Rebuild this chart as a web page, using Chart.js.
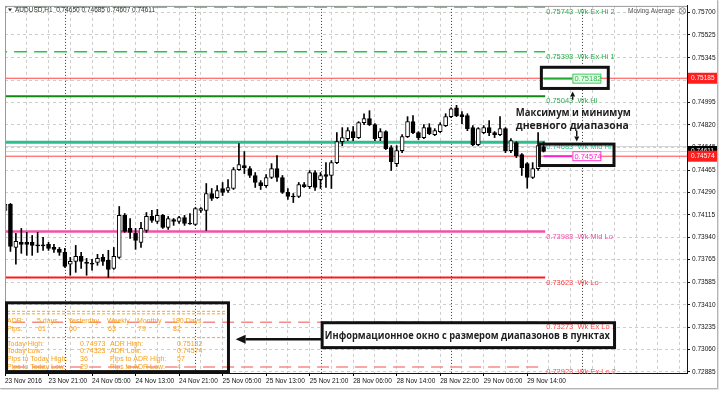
<!DOCTYPE html>
<html><head><meta charset="utf-8">
<script src="https://cdn.jsdelivr.net/npm/chart.js@4.4.1/dist/chart.umd.min.js"></script>
<style>html,body{margin:0;padding:0;background:#fff;overflow:hidden}canvas{display:block}</style>
</head><body>
<canvas id="c" width="724" height="396"></canvas>
<script>
// ---------------- DATA ----------------
const symbolTitle = 'AUDUSD,H1';
const currentOHLC = [0.74650, 0.74685, 0.74607, 0.74611];

const openP = [0.74149,0.74196,0.73859,0.73899,0.73899,0.73899,0.73875,0.73875,0.73883,0.73859,
0.73844,0.73820,0.73727,0.73750,0.73789,0.73742,0.73734,0.73742,0.73781,0.73758,
0.73695,0.73781,0.74110,0.74008,0.73969,0.73899,0.73992,0.74102,0.74063,0.74110,
0.74016,0.74078,0.74063,0.74094,0.74047,0.74039,0.74149,0.74149,0.74282,0.74250,
0.74321,0.74305,0.74321,0.74469,0.74501,0.74477,0.74423,0.74368,0.74344,0.74407,
0.74477,0.74407,0.74290,0.74258,0.74258,0.74352,0.74336,0.74446,0.74391,0.74430,
0.74423,0.74524,0.74688,0.74712,0.74767,0.74720,0.74837,0.74868,0.74821,0.74720,
0.74767,0.74641,0.74516,0.74618,0.74727,0.74845,0.74759,0.74720,0.74798,0.74743,
0.74767,0.74814,0.74884,0.74954,0.74900,0.74892,0.74798,0.74665,0.74759,0.74798,
0.74759,0.74743,0.74790,0.74618,0.74680,0.74587,0.74516,0.74407,0.74477,0.74650];

const highP = [0.74227,0.74204,0.73969,0.74008,0.73977,0.73953,0.73977,0.73938,0.73899,0.73883,
0.73859,0.73852,0.73781,0.73875,0.73820,0.73773,0.73766,0.73805,0.73805,0.73836,
0.73859,0.74180,0.74125,0.74086,0.74008,0.74055,0.74133,0.74149,0.74157,0.74118,
0.74102,0.74086,0.74102,0.74110,0.74125,0.74172,0.74172,0.74360,0.74321,0.74344,
0.74368,0.74391,0.74485,0.74673,0.74610,0.74493,0.74446,0.74383,0.74430,0.74516,
0.74579,0.74423,0.74321,0.74282,0.74368,0.74368,0.74462,0.74462,0.74446,0.74524,
0.74540,0.74759,0.74798,0.74798,0.74806,0.74845,0.74907,0.74931,0.74829,0.74790,
0.74774,0.74657,0.74657,0.74743,0.74884,0.74892,0.74767,0.74821,0.74829,0.74790,
0.74837,0.74907,0.74954,0.74973,0.74923,0.74907,0.74814,0.74798,0.74814,0.74853,
0.74767,0.74884,0.74798,0.74712,0.74688,0.74595,0.74524,0.74524,0.74759,0.74685];

const lowP = [0.74133,0.73828,0.73727,0.73813,0.73797,0.73797,0.73820,0.73836,0.73836,0.73820,
0.73797,0.73703,0.73641,0.73664,0.73695,0.73641,0.73680,0.73719,0.73719,0.73625,
0.73687,0.73773,0.73977,0.73930,0.73844,0.73859,0.73977,0.74055,0.74047,0.74008,
0.74000,0.74032,0.74047,0.74032,0.74039,0.74032,0.74133,0.73992,0.74227,0.74243,
0.74266,0.74290,0.74313,0.74462,0.74438,0.74407,0.74329,0.74313,0.74329,0.74399,
0.74376,0.74282,0.74235,0.74211,0.74250,0.74329,0.74321,0.74305,0.74321,0.74329,
0.74321,0.74516,0.74657,0.74696,0.74696,0.74712,0.74821,0.74814,0.74696,0.74696,
0.74626,0.74462,0.74493,0.74602,0.74720,0.74751,0.74704,0.74712,0.74743,0.74735,
0.74759,0.74806,0.74876,0.74884,0.74829,0.74774,0.74657,0.74657,0.74751,0.74735,
0.74720,0.74735,0.74602,0.74602,0.74563,0.74423,0.74323,0.74399,0.74462,0.74607];

const closeP = [0.74196,0.73867,0.73906,0.73883,0.73883,0.73875,0.73871,0.73871,0.73852,0.73844,
0.73820,0.73711,0.73750,0.73789,0.73750,0.73734,0.73727,0.73773,0.73750,0.73687,
0.73789,0.74110,0.73985,0.73977,0.73914,0.74008,0.74102,0.74071,0.74110,0.74016,
0.74086,0.74063,0.74094,0.74047,0.74043,0.74164,0.74164,0.74282,0.74243,0.74305,
0.74290,0.74329,0.74469,0.74509,0.74485,0.74423,0.74368,0.74344,0.74407,0.74477,
0.74407,0.74290,0.74258,0.74254,0.74352,0.74336,0.74446,0.74329,0.74423,0.74415,
0.74524,0.74688,0.74720,0.74774,0.74720,0.74837,0.74868,0.74821,0.74712,0.74767,
0.74634,0.74532,0.74618,0.74727,0.74845,0.74759,0.74720,0.74798,0.74751,0.74774,
0.74821,0.74884,0.74946,0.74892,0.74884,0.74790,0.74665,0.74790,0.74798,0.74759,
0.74743,0.74790,0.74618,0.74696,0.74579,0.74485,0.74407,0.74477,0.74657,0.74611];

const xLabels = ['23 Nov 2016','23 Nov 21:00','24 Nov 05:00','24 Nov 13:00','24 Nov 21:00','25 Nov 05:00',
'25 Nov 13:00','25 Nov 21:00','28 Nov 06:00','28 Nov 14:00','28 Nov 22:00','29 Nov 06:00','29 Nov 14:00'];
const yTicks = [0.75700,0.75525,0.75345,0.75170,0.74995,0.74820,0.74645,0.74465,0.74290,0.74115,
0.73940,0.73765,0.73585,0.73410,0.73235,0.73060,0.72885];
const separatorBars = [11, 35, 58, 82, 106];

const levelValues = [0.75743, 0.75393, 0.75043, 0.74683, 0.73983, 0.73623, 0.73273, 0.72923];
const levelNames  = ['Wk Ex Hi 2','Wk Ex Hi 1','Wk Hi','Wk Mid Hi','Wk Mid Lo','Wk Lo','Wk Ex Lo 1','Wk Ex Lo 2'];

const adrHigh = 0.75182, adrLow = 0.74574;
const priceLineValues = [0.75185, 0.74574, 0.74650, 0.74611];
const tagValues = [0.75185, 0.74611, 0.74574];

const adrPeriods = ['5 days','Yesterday','Weekly','Monthly','180 Days'];
const adrPips = [61, 60, 63, 79, 82];
const todayHigh = 0.74973, todayLow = 0.74323;
const pipsToTodayHigh = 36, pipsToTodayLow = 29, pipsToAdrHigh = 57, pipsToAdrLow = 4;

// ---------------- STYLES ----------------
const levelColors = ['#2fc14a','#2fc14a','#118a11','#2dbd8f','#f052a8','#ff1a1a','#f58a8a','#f58a8a'];
const levelWidths = [1.5,1.5,2,3,2.5,2,1.5,1.5];
const levelDash = [[13,7],[13,7],[],[],[],[],[12,7],[12,7]];
const levelTextColors = ['#2aae4a','#2aae4a','#33aa55','#2dbd8f','#f052a8','#ff4040','#ff4a4a','#ff4a4a'];
const priceLineColors = ['#ff4444','#ff4444','#d6d6d6','#d6d6d6'];
const tagColors = ['#ff1e1e','#000000','#ff1e1e'];

const lastBar = openP.length - 1;
const levelEnd = lastBar + 0.3;
const adrLineEnd = lastBar + 5.3;

// annotation geometry in data units (bar index / price)
const calloutBoxes = [
  {x0: 98.6, x1: 110.9, y0: 0.75271, y1: 0.75105, fill: true},
  {x0: 98.25, x1: 111.95, y0: 0.74669, y1: 0.74501, fill: true},
  {x0: 58.3, x1: 112.05, y0: 0.73269, y1: 0.73074, fill: true},
  {x0: 0.28, x1: 41.08, y0: 0.73425, y1: 0.72886, fill: false}
];

const FONT = '"Liberation Sans", Arial, sans-serif';
Chart.defaults.font.family = FONT;

const idx = openP.map((_, i) => i);
const bodies = {
  label: 'body', order: 0, grouped: false, barThickness: 4, minBarLength: 1,
  data: idx.map(i => ({x: i, y: [openP[i], closeP[i]]})),
  backgroundColor: idx.map(i => closeP[i] > openP[i] ? '#ffffff' : '#000000'),
  borderColor: '#000', borderWidth: 1, borderSkipped: false
};
const wicks = {
  label: 'wick', order: 1, grouped: false, barThickness: 1,
  data: idx.map(i => ({x: i, y: [lowP[i], highP[i]]})),
  backgroundColor: '#000', borderWidth: 0
};
const levelSets = levelValues.map((v, k) => ({
  type: 'line', order: 10, data: [{x: -2, y: v}, {x: levelEnd, y: v}],
  borderColor: levelColors[k], borderWidth: levelWidths[k], borderDash: levelDash[k],
  pointRadius: 0, fill: false, tension: 0
}));
const priceSets = priceLineValues.map((v, k) => ({
  type: 'line', order: 12, data: [{x: -2, y: v}, {x: 140, y: v}],
  borderColor: priceLineColors[k], borderWidth: 1, pointRadius: 0, fill: false
}));
const adrSets = [
  {type: 'line', order: 9, data: [{x: lastBar, y: adrHigh}, {x: adrLineEnd, y: adrHigh}], borderColor: '#22aa33', borderWidth: 2, pointRadius: 0},
  {type: 'line', order: 9, data: [{x: lastBar, y: adrLow}, {x: adrLineEnd, y: adrLow}], borderColor: '#ff22cc', borderWidth: 2, pointRadius: 0}
];

function boxRect(b, x, y) {
  const l = x.getPixelForValue(b.x0), r = x.getPixelForValue(b.x1);
  const t = y.getPixelForValue(b.y0), bt = y.getPixelForValue(b.y1);
  return {l, t, w: r - l, h: bt - t, r, b: bt};
}
function arrow(ctx, x1, y1, x2, y2, lw, hl, hw) {
  const ang = Math.atan2(y2 - y1, x2 - x1);
  const bx = x2 - Math.cos(ang) * hl, by = y2 - Math.sin(ang) * hl;
  ctx.lineWidth = lw; ctx.strokeStyle = '#111'; ctx.fillStyle = '#111';
  ctx.beginPath(); ctx.moveTo(x1, y1); ctx.lineTo(bx, by); ctx.stroke();
  ctx.beginPath(); ctx.moveTo(x2, y2);
  ctx.lineTo(bx + Math.sin(ang) * hw, by - Math.cos(ang) * hw);
  ctx.lineTo(bx - Math.sin(ang) * hw, by + Math.cos(ang) * hw);
  ctx.closePath(); ctx.fill();
}

const mt4 = {
  id: 'mt4',
  beforeDatasetsDraw(chart) {
    const {ctx, chartArea: a, scales: {x, y}} = chart;
    ctx.save();
    ctx.beginPath(); ctx.rect(a.left, a.top, a.right - a.left, a.bottom - a.top); ctx.clip();
    ctx.strokeStyle = '#3a3a3a'; ctx.lineWidth = 1; ctx.setLineDash([1, 2]);
    for (const b of separatorBars) {
      const px = Math.round(x.getPixelForValue(b)) + 0.5;
      ctx.beginPath(); ctx.moveTo(px, a.top); ctx.lineTo(px, a.bottom); ctx.stroke();
    }
    ctx.setLineDash([]);
    ctx.fillStyle = '#fff';
    for (const bx of calloutBoxes) {
      if (!bx.fill) continue;
      const r = boxRect(bx, x, y);
      ctx.fillRect(r.l, r.t, r.w, r.h);
    }
    ctx.restore();
  },
  afterDatasetsDraw(chart) {
    const {ctx, chartArea: a, scales: {x, y}} = chart;
    ctx.save();
    ctx.strokeStyle = '#9a9a9a'; ctx.lineWidth = 1;
    ctx.beginPath(); ctx.moveTo(a.left + 0.5, a.bottom); ctx.lineTo(a.left + 0.5, a.top + 0.5); ctx.lineTo(a.right, a.top + 0.5); ctx.stroke();

    // level labels
    ctx.textBaseline = 'middle'; ctx.textAlign = 'left';
    ctx.font = '7.5px ' + FONT;
    levelValues.forEach((v, k) => {
      ctx.fillStyle = levelTextColors[k];
      ctx.fillText(v.toFixed(5) + '  ' + levelNames[k], x.getPixelForValue(levelEnd) + 1, y.getPixelForValue(v) + 5);
    });

    // ADR price boxes
    const lx = x.getPixelForValue(adrLineEnd);
    ctx.font = '7.5px ' + FONT;
    [[adrHigh, '#e8fbe9', '#3acb5a', '#2fb84f'], [adrLow, '#ffffff', '#ff33cc', '#ff22cc']].forEach(([v, bg, bc, tc]) => {
      const py = y.getPixelForValue(v);
      ctx.fillStyle = bg; ctx.fillRect(lx, py - 4.5, 28, 9);
      ctx.strokeStyle = bc; ctx.lineWidth = 1; ctx.strokeRect(lx + 0.5, py - 4.5, 28, 9);
      ctx.fillStyle = tc; ctx.fillText(v.toFixed(5), lx + 2, py + 0.5);
    });

    // info panel
    const pr = boxRect(calloutBoxes[3], x, y);
    const p0x = pr.l - 1.5, p0y = pr.t;
    ctx.strokeStyle = '#f5a623'; ctx.lineWidth = 1; ctx.setLineDash([3, 2]);
    [8.5, 11, 34.8].forEach(dy => { ctx.beginPath(); ctx.moveTo(p0x + 2, p0y + dy); ctx.lineTo(p0x + 223, p0y + dy); ctx.stroke(); });
    ctx.setLineDash([]);
    ctx.fillStyle = '#f5a020'; ctx.font = '7px ' + FONT;
    const hc = [2, 32, 63, 102, 132, 167];
    ctx.fillText('ADR:', p0x + hc[0], p0y + 18.5);
    adrPeriods.forEach((t, k) => ctx.fillText(t, p0x + hc[k + 1], p0y + 18.5));
    ctx.fillText('Pips:', p0x + hc[0], p0y + 25.8);
    adrPips.forEach((t, k) => ctx.fillText(String(t), p0x + hc[k + 1] + 1, p0y + 25.8));
    const rows = [
      ['Today High:', todayHigh.toFixed(5), 'ADR High:', adrHigh.toFixed(5)],
      ['Today Low:', todayLow.toFixed(5), 'ADR Low:', adrLow.toFixed(5)],
      ['Pips to Today High:', String(pipsToTodayHigh), 'Pips to ADR High:', String(pipsToAdrHigh)],
      ['Pips to Today Low:', String(pipsToTodayLow), 'Pips to ADR Low:', String(pipsToAdrLow)]
    ];
    const rc = [2, 75, 105, 172], ry = [40.8, 48.5, 56.5, 64.2];
    rows.forEach((r, k) => r.forEach((t, j) => ctx.fillText(t, p0x + rc[j], p0y + ry[k])));

    // callout box borders
    ctx.strokeStyle = '#111'; ctx.lineWidth = 3;
    calloutBoxes.forEach(bx => { const r = boxRect(bx, x, y); ctx.strokeRect(r.l, r.t, r.w, r.h); });

    // arrows
    arrow(ctx, x.getPixelForValue(104.35), y.getPixelForValue(0.75017), x.getPixelForValue(104.35), y.getPixelForValue(0.75082), 1.5, 5, 2.5);
    arrow(ctx, x.getPixelForValue(105.1), y.getPixelForValue(0.74774), x.getPixelForValue(105.1), y.getPixelForValue(0.74690), 1.5, 5, 2.5);
    arrow(ctx, x.getPixelForValue(58.3), y.getPixelForValue(0.73140), x.getPixelForValue(42.4), y.getPixelForValue(0.73140), 2.5, 10, 4.5);

    // russian texts
    ctx.fillStyle = '#1e1e1e'; ctx.font = 'bold 11px "Open Sans", sans-serif';
    ctx.fillText('Максимум и минимум', x.getPixelForValue(93.9), y.getPixelForValue(0.74915), 115);
    ctx.fillText('дневного диапазона', x.getPixelForValue(93.9), y.getPixelForValue(0.74810), 113);
    ctx.fillText('Информационное окно с размером диапазонов в пунктах', x.getPixelForValue(58.8), y.getPixelForValue(0.73167), 285);

    // header
    ctx.fillStyle = '#333';
    ctx.beginPath(); ctx.moveTo(a.left + 3, a.top + 2.5); ctx.lineTo(a.left + 7, a.top + 2.5); ctx.lineTo(a.left + 5, a.top + 5.5); ctx.closePath(); ctx.fill();
    ctx.font = '6.5px ' + FONT;
    ctx.fillText(symbolTitle + '  ' + currentOHLC.map(v => v.toFixed(5)).join(' '), a.left + 10, a.top + 4);
    ctx.fillStyle = '#555';
    ctx.fillText('Moving Average', a.right - 59, a.top + 5);
    ctx.strokeStyle = '#777'; ctx.lineWidth = 0.8;
    ctx.beginPath(); ctx.arc(a.right - 4.5, a.top + 5, 3.2, 0, Math.PI * 2); ctx.stroke();
    ctx.beginPath(); ctx.moveTo(a.right - 6.5, a.top + 3); ctx.lineTo(a.right - 2.5, a.top + 7); ctx.moveTo(a.right - 2.5, a.top + 3); ctx.lineTo(a.right - 6.5, a.top + 7); ctx.stroke();

    // axis price tags
    ctx.font = '6.5px ' + FONT;
    tagValues.forEach((v, k) => {
      const py = y.getPixelForValue(v);
      ctx.fillStyle = tagColors[k]; ctx.fillRect(a.right + 1, py - 5.5, 30, 11);
      ctx.fillStyle = '#fff'; ctx.fillText(v.toFixed(5), a.right + 4, py);
    });

    // window frame
    ctx.strokeStyle = '#b4b4b4'; ctx.lineWidth = 1;
    ctx.beginPath(); ctx.moveTo(717.5, 0); ctx.lineTo(717.5, 388.5); ctx.lineTo(0, 388.5); ctx.stroke();
    ctx.strokeStyle = '#e2e2e2';
    ctx.beginPath(); ctx.moveTo(718.5, 1); ctx.lineTo(718.5, 389.5); ctx.lineTo(1, 389.5); ctx.stroke();
    ctx.restore();
  }
};

const xTickBars = [];
for (let v = 0; v <= 124; v += 4) xTickBars.push(v);
const isLabelTick = v => v % 8 === 0 && v / 8 < xLabels.length;

new Chart(document.getElementById('c'), {
  type: 'bar',
  data: {datasets: [bodies, wicks, ...adrSets, ...levelSets, ...priceSets]},
  options: {
    responsive: false, animation: false, events: [],
    layout: {padding: {left: 5, top: 5, right: 0, bottom: 0}},
    plugins: {legend: {display: false}, tooltip: {enabled: false}},
    scales: {
      x: {
        type: 'linear', min: 0, max: 125.37, offset: false,
        grid: {offset: false, color: '#cdcdcd', lineWidth: 1, drawTicks: true, tickLength: 3,
          tickColor: c => (c.tick && isLabelTick(c.tick.value)) ? '#000' : 'rgba(0,0,0,0)'},
        border: {display: true, color: '#111', dash: [3, 3]},
        ticks: {align: 'start', padding: 1, color: '#111', font: {size: 6.5}, autoSkip: false, maxRotation: 0,
          callback: v => isLabelTick(v) ? xLabels[v / 8] : ''},
        afterBuildTicks: s => { s.ticks = xTickBars.map(v => ({value: v})); },
        afterFit: s => { s.height = 23; }
      },
      y: {
        type: 'linear', position: 'right', min: 0.72875, max: 0.75752,
        grid: {color: '#cdcdcd', lineWidth: 1, drawTicks: true, tickLength: 3, tickColor: '#111'},
        border: {display: true, color: '#111', dash: [3, 3]},
        ticks: {padding: 2, color: '#111', font: {size: 6.5}, autoSkip: false, callback: v => Number(v).toFixed(5)},
        afterBuildTicks: s => { s.ticks = yTicks.map(v => ({value: v})); },
        afterFit: s => { s.width = 37; }
      }
    }
  },
  plugins: [mt4]
});
</script>
</body></html>
